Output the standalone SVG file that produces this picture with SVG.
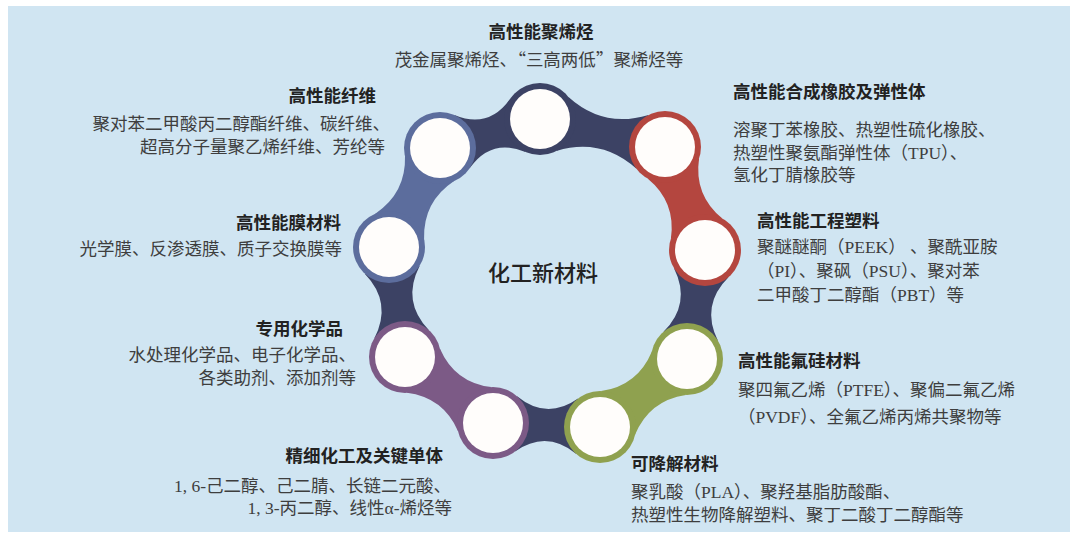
<svg xmlns="http://www.w3.org/2000/svg" width="1080" height="540" viewBox="0 0 1080 540">
<style>
.bg{fill:#d0e5f2}
.navy{fill:#3c4264}
.blue{fill:#5c6d9d}
.red{fill:#b4463f}
.green{fill:#8fa14f}
.purple{fill:#7c5a86}
.hole{fill:#fffdfb}
.t{font-family:"Noto Sans CJK SC","Noto Sans",sans-serif;font-weight:bold;font-size:17.5px;fill:#222}
.b{font-family:"Liberation Serif","Noto Sans CJK SC",serif;font-size:17.5px;fill:#3e3e3e}
.q{font-family:"Noto Sans CJK SC",sans-serif}
.c{font-family:"Noto Sans CJK SC","Noto Sans",sans-serif;font-weight:500;font-size:22px;fill:#222}
</style>
<rect class="bg" x="8" y="6" width="1062" height="526"/>
<g id="connectors">
  <path class="navy" transform="translate(540 119) rotate(12.6)" d="M23 27.6Q64 4.4 105 27.6L105 -27.6Q64 -4.4 23 -27.6Z"/>
  <path class="navy" transform="translate(705 250) rotate(99.4)" d="M23 27.6Q55.2 4.4 87.5 27.6L87.5 -27.6Q55.2 -4.4 23 -27.6Z"/>
  <path class="navy" transform="translate(600 427) rotate(182.1)" d="M23 27.6Q53.5 4.4 84 27.6L84 -27.6Q53.5 -4.4 23 -27.6Z"/>
  <path class="navy" transform="translate(405 357) rotate(261.7)" d="M23 27.6Q55.6 4.4 88 27.6L88 -27.6Q55.6 -4.4 23 -27.6Z"/>
  <path class="navy" transform="translate(440 148) rotate(-16.2)" d="M23 27.6Q52 4.4 81 27.6L81 -27.6Q52 -4.4 23 -27.6Z"/>
  <path class="red" transform="translate(665 147) rotate(68.8)" d="M23 27.6Q55.2 9.4 87.5 27.6L87.5 -27.6Q55.2 -9.4 23 -27.6Z"/>
  <path class="green" transform="translate(687 359) rotate(142)" d="M23 27.6Q55.2 9.4 87.4 27.6L87.4 -27.6Q55.2 -9.4 23 -27.6Z"/>
  <path class="purple" transform="translate(493 423) rotate(216.9)" d="M23 27.6Q55 9.4 87 27.6L87 -27.6Q55 -9.4 23 -27.6Z"/>
  <path class="blue" transform="translate(389 247) rotate(-62.7)" d="M23 27.6Q55.7 9.4 88.4 27.6L88.4 -27.6Q55.7 -9.4 23 -27.6Z"/>
</g>
<g id="n-top"><circle class="navy" cx="540" cy="119" r="36"/><circle class="hole" cx="540" cy="119" r="30"/></g>
<g id="n-ur"><circle class="red" cx="665" cy="147" r="36"/><circle class="hole" cx="665" cy="147" r="30"/></g>
<g id="n-r"><circle class="red" cx="705" cy="250" r="36"/><circle class="hole" cx="705" cy="250" r="30"/></g>
<g id="n-lr"><circle class="green" cx="687" cy="359" r="36"/><circle class="hole" cx="687" cy="359" r="30"/></g>
<g id="n-br"><circle class="green" cx="600" cy="427" r="36"/><circle class="hole" cx="600" cy="427" r="30"/></g>
<g id="n-bl"><circle class="purple" cx="493" cy="423" r="36"/><circle class="hole" cx="493" cy="423" r="30"/></g>
<g id="n-ll"><circle class="purple" cx="405" cy="357" r="36"/><circle class="hole" cx="405" cy="357" r="30"/></g>
<g id="n-l"><circle class="blue" cx="389" cy="247" r="36"/><circle class="hole" cx="389" cy="247" r="30"/></g>
<g id="n-ul"><circle class="blue" cx="440" cy="148" r="36"/><circle class="hole" cx="440" cy="148" r="30"/></g>
<g id="center"><text class="c" x="543" y="281" text-anchor="middle">化工新材料</text></g>
<g id="l-polyolefin" text-anchor="middle">
  <text class="t" x="541" y="38">高性能聚烯烃</text>
  <text class="b" x="539" y="66">茂金属聚烯烃、<tspan class="q">“</tspan>三高两低<tspan class="q">”</tspan>聚烯烃等</text>
</g>
<g id="l-fiber" text-anchor="end">
  <text class="t" x="376" y="102">高性能纤维</text>
  <text class="b" x="390" y="130">聚对苯二甲酸丙二醇酯纤维、碳纤维、</text>
  <text class="b" x="385" y="153">超高分子量聚乙烯纤维、芳纶等</text>
</g>
<g id="l-rubber">
  <text class="t" x="733" y="98">高性能合成橡胶及弹性体</text>
  <text class="b" x="733" y="136">溶聚丁苯橡胶、热塑性硫化橡胶、</text>
  <text class="b" x="733" y="159">热塑性聚氨酯弹性体（TPU）、</text>
  <text class="b" x="733" y="181">氢化丁腈橡胶等</text>
</g>
<g id="l-plastic">
  <text class="t" x="757" y="227">高性能工程塑料</text>
  <text class="b" x="757" y="253">聚醚醚酮（PEEK） 、聚酰亚胺</text>
  <text class="b" x="757" y="277">（PI）、聚砜（PSU）、聚对苯</text>
  <text class="b" x="757" y="301">二甲酸丁二醇酯（PBT）等</text>
</g>
<g id="l-membrane" text-anchor="end">
  <text class="t" x="341" y="229">高性能膜材料</text>
  <text class="b" x="342" y="255">光学膜、反渗透膜、质子交换膜等</text>
</g>
<g id="l-special" text-anchor="end">
  <text class="t" x="343" y="335">专用化学品</text>
  <text class="b" x="356" y="361">水处理化学品、电子化学品、</text>
  <text class="b" x="356" y="384">各类助剂、添加剂等</text>
</g>
<g id="l-fluoro">
  <text class="t" x="738" y="367">高性能氟硅材料</text>
  <text class="b" x="738" y="396">聚四氟乙烯（PTFE）、聚偏二氟乙烯</text>
  <text class="b" x="738" y="423">（PVDF）、全氟乙烯丙烯共聚物等</text>
</g>
<g id="l-fine" text-anchor="end">
  <text class="t" x="443" y="462">精细化工及关键单体</text>
  <text class="b" x="451" y="492">1, 6-己二醇、己二腈、长链二元酸、</text>
  <text class="b" x="452" y="514">1, 3-丙二醇、线性α-烯烃等</text>
</g>
<g id="l-degradable">
  <text class="t" x="631" y="470">可降解材料</text>
  <text class="b" x="631" y="498">聚乳酸（PLA）、聚羟基脂肪酸酯、</text>
  <text class="b" x="631" y="521">热塑性生物降解塑料、聚丁二酸丁二醇酯等</text>
</g>
</svg>
